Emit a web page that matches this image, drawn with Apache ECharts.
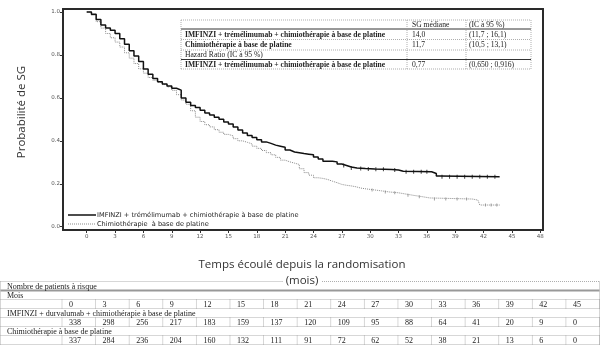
<!DOCTYPE html>
<html>
<head>
<meta charset="utf-8">
<title>Probabilité de SG</title>
<style>
	* { margin: 0; padding: 0; }
	html, body { width: 100%; height: 100%; background: #fff; }
	#box { width: 605px; height: 354px; }
</style>
</head>
<body>
<div id="box"></div>
<script src="https://cdn.jsdelivr.net/npm/echarts@6/dist/echarts.min.js"></script>
<script>
var nomImf = 'IMFINZI + trémélimumab + chimiothérapie à base de platine'
var nomChi = 'Chimiothérapie  à base de platine'

// courbe IMFINZI (mois / probabilité)
var imfTemps = [0, 0.5, 1, 1.5, 2, 2.5, 3, 3.5, 4, 4.5, 5, 5.5, 6, 6.5, 7, 7.5, 8, 8.5, 9, 9.5,
	10, 10.5, 11, 11.5, 12, 12.5, 13, 13.5, 14, 14.5, 15, 15.5, 16, 16.5, 17, 17.5, 18, 18.5, 19, 19.5,
	20, 20.5, 21, 21.5, 22, 23, 23.5, 24, 24.5, 25, 26, 26.5, 27, 27.5, 28, 28.6, 29.5, 30.5, 31.5, 32.3,
	33, 33.5, 36.5, 37, 37.3, 43.7]
var imfSurv = [1, 0.99, 0.965, 0.94, 0.925, 0.915, 0.9, 0.876, 0.85, 0.82, 0.795, 0.77, 0.735, 0.71, 0.69, 0.675, 0.665, 0.655, 0.645, 0.636,
	0.6, 0.58, 0.565, 0.555, 0.543, 0.53, 0.52, 0.51, 0.5, 0.488, 0.478, 0.465, 0.45, 0.437, 0.425, 0.415, 0.405, 0.395, 0.388, 0.38,
	0.375, 0.37, 0.357, 0.348, 0.341, 0.338, 0.335, 0.325, 0.315, 0.305, 0.302, 0.292, 0.285, 0.278, 0.274, 0.271, 0.269, 0.268, 0.266, 0.264,
	0.258, 0.256, 0.248, 0.236, 0.233, 0.233]

// courbe chimiothérapie
var chiTemps = [0, 0.5, 1, 1.5, 2, 2.5, 3, 3.5, 4, 4.5, 5, 5.5, 6, 6.5, 7, 7.5, 8, 8.5, 9, 9.5,
	10, 10.5, 11, 11.5, 12, 12.5, 13, 13.5, 14, 14.5, 15, 15.5, 16, 16.5, 17, 17.5, 18, 18.5, 19, 19.5,
	20, 20.5, 21, 21.5, 22, 22.5, 23, 23.5, 24, 24.5, 25, 25.5, 26, 26.5, 27, 27.5, 28, 28.5, 29, 29.6,
	30.5, 31.2, 32, 33, 33.8, 34.6, 35.5, 36.3, 40.8, 41.4, 41.6, 43.7]
var chiSurv = [1, 0.985, 0.955, 0.925, 0.9, 0.88, 0.86, 0.837, 0.81, 0.785, 0.76, 0.735, 0.715, 0.695, 0.682, 0.672, 0.662, 0.651, 0.635, 0.615,
	0.59, 0.57, 0.54, 0.51, 0.49, 0.475, 0.465, 0.452, 0.44, 0.43, 0.423, 0.41, 0.4, 0.393, 0.386, 0.375, 0.365, 0.355, 0.345, 0.335,
	0.323, 0.31, 0.302, 0.296, 0.29, 0.27, 0.252, 0.24, 0.228, 0.225, 0.22, 0.212, 0.205, 0.197, 0.193, 0.19, 0.186, 0.18, 0.176, 0.171,
	0.167, 0.162, 0.158, 0.152, 0.146, 0.14, 0.134, 0.129, 0.124, 0.116, 0.101, 0.101]

// données censurées
var imfCensure = [27.2, 28.0, 29.0, 29.8, 30.6, 31.4, 32.6, 33.8, 34.6, 35.4, 36.0, 37.6, 38.4, 39.2, 40.0, 40.8, 41.6, 42.4, 43.2]
var chiCensure = [30.2, 31.6, 32.6, 34.0, 35.2, 36.8, 38.0, 39.2, 40.2, 42.2, 42.8, 43.4]

var xTicks = [0, 3, 6, 9, 12, 15, 18, 21, 24, 27, 30, 33, 36, 39, 42, 45, 48]
var yTicks = [0, 0.2, 0.4, 0.6, 0.8, 1.0]

var moisTicks = [0, 3, 6, 9, 12, 15, 18, 21, 24, 27, 30, 33, 36, 39, 42, 45]
var risqueImf = [338, 298, 256, 217, 183, 159, 137, 120, 109, 95, 88, 64, 41, 20, 9, 0]
var risqueChi = [337, 284, 236, 204, 160, 132, 111, 91, 72, 62, 52, 38, 21, 13, 6, 0]

var tabNoms = ['', 'IMFINZI + trémélimumab + chimiothérapie à base de platine', 'Chimiothérapie à base de platine',
	'Hazard Ratio (IC à 95 %)', 'IMFINZI + trémélimumab + chimiothérapie à base de platine']
var tabMediane = ['SG médiane', '14,0', '11,7', '', '0,77']
var tabIC = ['(IC à 95 %)', '(11,7 ; 16,1)', '(10,5 ; 13,1)', '', '(0,650 ; 0,916)']
var tabGras = [false, true, true, false, true]

function paires(t, s) {
	var out = []
	for (let i = 0; i < t.length; i++) out.push([t[i], s[i]])
	return out
}

function valeurA(t, s, x) {
	var v = s[0]
	for (let i = 0; i < t.length; i++) {
		if (t[i] <= x) v = s[i]
	}
	return v
}

function censures(t, s, c) {
	var out = []
	for (let i = 0; i < c.length; i++) out.push([c[i], valeurA(t, s, c[i])])
	return out
}

var serif = '"Liberation Serif", "Times New Roman", serif'
var sans = '"Open Sans", "Noto Sans", sans-serif'
var gris = '#9a9a9a'

function ligne(x1, y1, x2, y2, couleur, lw, pointille) {
	return {
		type: 'line',
		shape: { x1: x1, y1: y1, x2: x2, y2: y2 },
		style: { stroke: couleur, lineWidth: lw, lineDash: pointille ? [1, 1] : null },
		silent: true
	}
}

function texte(txt, x, y, taille, gras, aligne, famille, couleur) {
	return {
		type: 'text',
		style: {
			text: txt, x: x, y: y,
			fontSize: taille,
			fontFamily: famille || serif,
			fontWeight: gras ? 'bold' : 'normal',
			fill: couleur || '#222',
			align: aligne || 'left',
			verticalAlign: 'middle'
		},
		silent: true
	}
}

function construireGraphique() {
	var g = []

	// tableau SG médiane
	var tx = [181, 407, 466, 531]
	var ty = [20, 29, 39.5, 50, 59.5, 69]
	for (let r = 0; r < ty.length; r++) {
		var plein = (r == 1 || r == 4)
		g.push(ligne(tx[0], ty[r], tx[3], ty[r], plein ? '#333' : gris, plein ? 1 : 0.8, !plein))
	}
	for (let c = 0; c < tx.length; c++) {
		g.push(ligne(tx[c], ty[0], tx[c], ty[5], gris, 0.8, true))
	}
	for (let r = 0; r < tabNoms.length; r++) {
		var cy = (ty[r] + ty[r + 1]) / 2 + 0.5
		g.push(texte(tabNoms[r], tx[0] + 4, cy, 7.6, tabGras[r]))
		g.push(texte(tabMediane[r], tx[1] + 5, cy, 7.6, false))
		g.push(texte(tabIC[r], tx[2] + 3, cy, 7.6, false))
	}

	// légende
	g.push(ligne(68, 215, 96, 215, '#111', 1.5, false))
	g.push(ligne(68, 224, 96, 224, '#8a8a8a', 1, true))
	g.push(texte(nomImf, 97, 215, 6.6, false, 'left', '"DejaVu Sans", sans-serif', '#222'))
	g.push(texte(nomChi, 97, 224, 6.6, false, 'left', '"DejaVu Sans", sans-serif', '#222'))

	// titres des axes
	g.push({
		type: 'text',
		rotation: Math.PI / 2,
		x: 22, y: 112,
		style: {
			text: 'Probabilité de SG', fontSize: 11.5, fontFamily: sans,
			fill: '#333', align: 'center', verticalAlign: 'middle'
		},
		silent: true
	})
	g.push(texte('Temps écoulé depuis la randomisation', 302, 265, 11.5, false, 'center', sans, '#333'))
	g.push(texte('(mois)', 302, 281, 11.5, false, 'center', sans, '#333'))

	// tableau des patients à risque
	var gx = 0.5, dx = 599.5, c0 = 62
	var larg = (dx - c0) / moisTicks.length
	var ry = [281.5, 290.5, 299.5, 308.5, 317.5, 326.5, 335.5, 344.5]
	g.push(ligne(gx, ry[0], 283, ry[0], gris, 0.8, true))
	g.push(ligne(322, ry[0], dx, ry[0], gris, 0.8, true))
	for (let r = 1; r < ry.length; r++) {
		if (r == 1) g.push(ligne(gx, ry[r], dx, ry[r], '#999', 2, false))
		else g.push(ligne(gx, ry[r], dx, ry[r], gris, 0.8, true))
	}
	g.push(ligne(gx, ry[0], gx, ry[7], gris, 0.8, true))
	g.push(ligne(dx, ry[0], dx, ry[7], gris, 0.8, true))
	var titresRisque = ['Nombre de patients à risque', 'Mois', null, 'IMFINZI + durvalumab + chimiothérapie à base de platine', null, 'Chimiothérapie à base de platine', null]
	var valeursRisque = [null, null, moisTicks, null, risqueImf, null, risqueChi]
	for (let r = 0; r < 7; r++) {
		var cy2 = (ry[r] + ry[r + 1]) / 2 + 0.5
		if (titresRisque[r]) {
			g.push(texte(titresRisque[r], 7, cy2, 8, false))
		} else {
			var vals = valeursRisque[r]
			for (let c = 0; c <= vals.length; c++) {
				g.push(ligne(c0 + c * larg, ry[r], c0 + c * larg, ry[r + 1], gris, 0.8, true))
			}
			for (let c = 0; c < vals.length; c++) {
				g.push(texte(String(vals[c]), c0 + c * larg + 7, cy2, 8, false))
			}
		}
	}
	return g
}

function cadre() {
	return { show: true, onZero: false, lineStyle: { color: '#2a2a2a', width: 2 } }
}

function dessiner() {
	var myChart = echarts.init(document.getElementById('box'))
	var option = {
		animation: false,
		backgroundColor: '#fff',
		grid: { left: 63, right: 62, top: 9, bottom: 124, show: true, borderColor: '#2a2a2a', borderWidth: 1.5 },
		xAxis: [{
			type: 'value', min: -2.51, max: 48.29, position: 'bottom',
			axisLine: cadre(),
			axisTick: { show: true, length: 3, customValues: xTicks, lineStyle: { color: '#333', width: 1 } },
			axisLabel: { fontSize: 5.5, color: '#555', margin: 4, customValues: xTicks, fontFamily: '"DejaVu Sans", sans-serif' },
			splitLine: { show: false }
		}, {
			type: 'value', min: -2.51, max: 48.29, position: 'top',
			axisLine: cadre(), axisTick: { show: false }, axisLabel: { show: false }, splitLine: { show: false }
		}],
		yAxis: [{
			type: 'value', min: -0.0153, max: 1.014, position: 'left',
			axisLine: cadre(),
			axisTick: { show: true, length: 3, customValues: yTicks, lineStyle: { color: '#333', width: 1 } },
			axisLabel: {
				fontSize: 5.5, color: '#555', margin: 3, customValues: yTicks, fontFamily: '"DejaVu Sans", sans-serif',
				formatter: function (v) { return v.toFixed(1) }
			},
			splitLine: { show: false }
		}, {
			type: 'value', min: -0.0153, max: 1.014, position: 'right',
			axisLine: cadre(), axisTick: { show: false }, axisLabel: { show: false }, splitLine: { show: false }
		}],
		series: [{
			name: nomImf,
			type: 'line',
			step: 'end',
			symbol: 'none',
			data: paires(imfTemps, imfSurv),
			lineStyle: { color: '#111', width: 1.5 },
			itemStyle: { color: '#111' },
			z: 3
		}, {
			name: nomChi,
			type: 'line',
			step: 'end',
			symbol: 'none',
			data: paires(chiTemps, chiSurv),
			lineStyle: { color: '#8a8a8a', width: 1, type: 'dotted' },
			itemStyle: { color: '#8a8a8a' },
			z: 2
		}, {
			name: 'censure1',
			type: 'scatter',
			symbol: 'rect',
			symbolSize: [1, 4],
			data: censures(imfTemps, imfSurv, imfCensure),
			itemStyle: { color: '#111' },
			z: 3
		}, {
			name: 'censure2',
			type: 'scatter',
			symbol: 'rect',
			symbolSize: [1, 3],
			data: censures(chiTemps, chiSurv, chiCensure),
			itemStyle: { color: '#8a8a8a' },
			z: 2
		}],
		graphic: construireGraphique()
	}
	myChart.setOption(option)
}

window.onload = function () {
	dessiner()
}
</script>
</body>
</html>
